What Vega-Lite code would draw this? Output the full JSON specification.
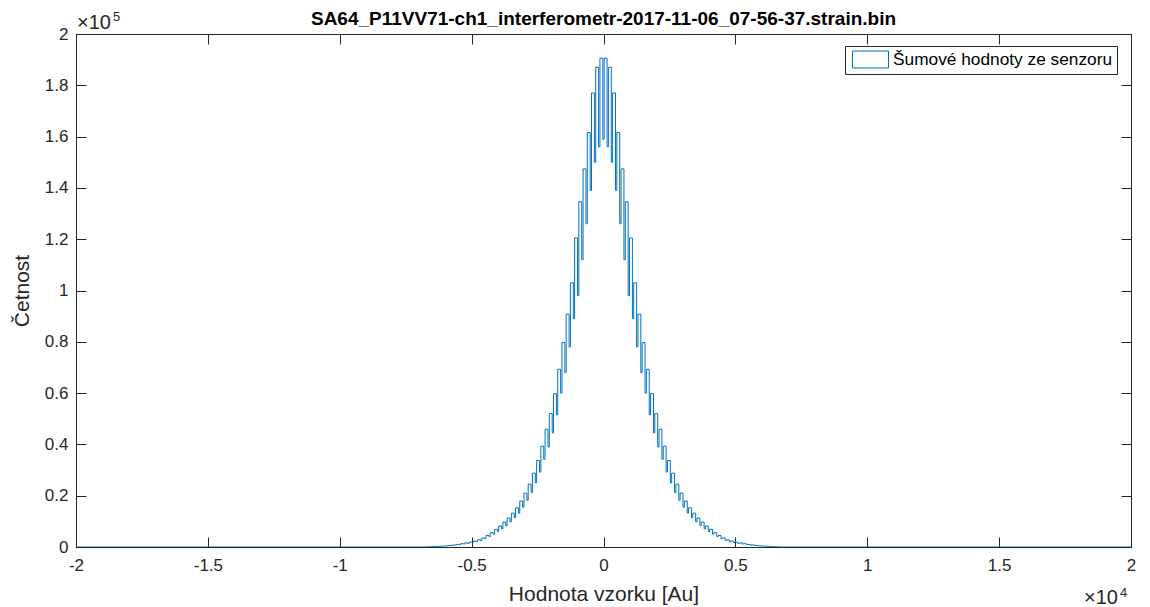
{
"$schema": "https://vega.github.io/schema/vega-lite/v6.json",
"width": 1055, "height": 513,
"autosize": {"type": "none"},
"padding": {"left": 76, "top": 34, "right": 19, "bottom": 60},
"background": "white",
"title": {"text": "SA64_P11VV71-ch1_interferometr-2017-11-06_07-56-37.strain.bin", "fontSize": 19, "fontWeight": "bold", "font": "Liberation Sans", "color": "#000000", "anchor": "middle", "offset": 7, "dy": 25},
"config": {
  "view": {"stroke": "#262626", "strokeWidth": 1},
  "font": "Liberation Sans",
  "axis": {"domainColor": "#262626", "tickColor": "#262626", "labelColor": "#262626", "titleColor": "#262626", "labelFont": "Liberation Sans", "titleFont": "Liberation Sans", "labelFontSize": 17, "titleFontSize": 21, "titleFontWeight": "normal", "grid": false, "tickSize": -10, "tickWidth": 1, "domainWidth": 1, "labelFlush": false, "labelOverlap": false}
},
"resolve": {"axis": {"x": "independent", "y": "independent"}},
"layer": [
 {
  "data": {"values": [
{"x":-20000,"y":0},{"x":-6695,"y":70},{"x":-6585,"y":80},{"x":-6535,"y":140},{"x":-6425,"y":140},{"x":-6375,"y":220},{"x":-6265,"y":220},{"x":-6215,"y":330},{"x":-6105,"y":320},{"x":-6055,"y":450},{"x":-5945,"y":420},{"x":-5895,"y":600},{"x":-5785,"y":560},{"x":-5735,"y":800},{"x":-5625,"y":700},{"x":-5575,"y":1000},{"x":-5465,"y":900},{"x":-5415,"y":1300},{"x":-5305,"y":1150},{"x":-5255,"y":1600},{"x":-5145,"y":1400},{"x":-5095,"y":1900},{"x":-4985,"y":1700},{"x":-4935,"y":2300},{"x":-4825,"y":2000},{"x":-4775,"y":2800},{"x":-4665,"y":2500},{"x":-4615,"y":3500},{"x":-4505,"y":3200},{"x":-4455,"y":4500},{"x":-4345,"y":4100},{"x":-4295,"y":5600},{"x":-4185,"y":5000},{"x":-4135,"y":6900},{"x":-4025,"y":6000},{"x":-3975,"y":8200},{"x":-3865,"y":7100},{"x":-3815,"y":9700},{"x":-3705,"y":8300},{"x":-3655,"y":11300},{"x":-3545,"y":9800},{"x":-3495,"y":13200},{"x":-3385,"y":11400},{"x":-3335,"y":15300},{"x":-3225,"y":13200},{"x":-3175,"y":17900},{"x":-3065,"y":15500},{"x":-3015,"y":21000},{"x":-2905,"y":18200},{"x":-2855,"y":24500},{"x":-2745,"y":21200},{"x":-2695,"y":28800},{"x":-2585,"y":25000},{"x":-2535,"y":33700},{"x":-2425,"y":29200},{"x":-2375,"y":39300},{"x":-2265,"y":34200},{"x":-2215,"y":45900},{"x":-2105,"y":39000},{"x":-2055,"y":52000},{"x":-1945,"y":44500},{"x":-1895,"y":59800},{"x":-1785,"y":51500},{"x":-1735,"y":69300},{"x":-1625,"y":60000},{"x":-1575,"y":79700},{"x":-1465,"y":68000},{"x":-1415,"y":90800},{"x":-1305,"y":78000},{"x":-1255,"y":103000},{"x":-1145,"y":89000},{"x":-1095,"y":120500},{"x":-985,"y":98000},{"x":-935,"y":134600},{"x":-825,"y":112000},{"x":-775,"y":147400},{"x":-665,"y":126000},{"x":-615,"y":161600},{"x":-505,"y":139000},{"x":-455,"y":177000},{"x":-345,"y":150000},{"x":-295,"y":187000},{"x":-185,"y":156000},{"x":-135,"y":190600},{"x":-25,"y":159000},
{"x":25,"y":190600},{"x":135,"y":156000},{"x":185,"y":187000},{"x":295,"y":150000},{"x":345,"y":177000},{"x":455,"y":139000},{"x":505,"y":161600},{"x":615,"y":126000},{"x":665,"y":147400},{"x":775,"y":112000},{"x":825,"y":134600},{"x":935,"y":98000},{"x":985,"y":120500},{"x":1095,"y":89000},{"x":1145,"y":103000},{"x":1255,"y":78000},{"x":1305,"y":90800},{"x":1415,"y":68000},{"x":1465,"y":79700},{"x":1575,"y":60000},{"x":1625,"y":69300},{"x":1735,"y":51500},{"x":1785,"y":59800},{"x":1895,"y":44500},{"x":1945,"y":52000},{"x":2055,"y":39000},{"x":2105,"y":45900},{"x":2215,"y":34200},{"x":2265,"y":39300},{"x":2375,"y":29200},{"x":2425,"y":33700},{"x":2535,"y":25000},{"x":2585,"y":28800},{"x":2695,"y":21200},{"x":2745,"y":24500},{"x":2855,"y":18200},{"x":2905,"y":21000},{"x":3015,"y":15500},{"x":3065,"y":17900},{"x":3175,"y":13200},{"x":3225,"y":15300},{"x":3335,"y":11400},{"x":3385,"y":13200},{"x":3495,"y":9800},{"x":3545,"y":11300},{"x":3655,"y":8300},{"x":3705,"y":9700},{"x":3815,"y":7100},{"x":3865,"y":8200},{"x":3975,"y":6000},{"x":4025,"y":6900},{"x":4135,"y":5000},{"x":4185,"y":5600},{"x":4295,"y":4100},{"x":4345,"y":4500},{"x":4455,"y":3200},{"x":4505,"y":3500},{"x":4615,"y":2500},{"x":4665,"y":2800},{"x":4775,"y":2000},{"x":4825,"y":2300},{"x":4935,"y":1700},{"x":4985,"y":1900},{"x":5095,"y":1400},{"x":5145,"y":1600},{"x":5255,"y":1150},{"x":5305,"y":1300},{"x":5415,"y":900},{"x":5465,"y":1000},{"x":5575,"y":700},{"x":5625,"y":800},{"x":5735,"y":560},{"x":5785,"y":600},{"x":5895,"y":420},{"x":5945,"y":450},{"x":6055,"y":320},{"x":6105,"y":330},{"x":6215,"y":220},{"x":6265,"y":220},{"x":6375,"y":140},{"x":6425,"y":140},{"x":6535,"y":80},{"x":6585,"y":70},{"x":6695,"y":0},{"x":20000,"y":0}
  ]},
  "mark": {"type": "line", "interpolate": "step-after", "strokeWidth": 1, "clip": true},
  "encoding": {
   "x": {"field": "x", "type": "quantitative", "scale": {"domain": [-20000, 20000], "nice": false, "zero": false},
         "axis": {"values": [-20000,-15000,-10000,-5000,0,5000,10000,15000,20000], "labelExpr": "'' + datum.value/10000", "title": "Hodnota vzorku [Au]", "labelPadding": 20, "titlePadding": 10}},
   "y": {"field": "y", "type": "quantitative", "scale": {"domain": [0, 200000], "nice": false},
         "axis": {"values": [0,20000,40000,60000,80000,100000,120000,140000,160000,180000,200000], "labelExpr": "'' + datum.value/100000", "title": "Četnost", "labelPadding": 18, "titlePadding": 12}},
   "color": {"datum": "Šumové hodnoty ze senzoru", "scale": {"range": ["#0072BD"]},
      "legend": {"orient": "none", "legendX": 769, "legendY": 12, "title": null, "symbolType": "M-2,-0.94H2V0.94H-2Z", "symbolSize": 324, "symbolOffset": 12, "symbolFillColor": "white", "symbolStrokeColor": "#0072BD", "symbolStrokeWidth": 1, "labelFontSize": 17.3, "labelLimit": 400, "labelColor": "#000000", "labelFont": "Liberation Sans", "strokeColor": "#262626", "fillColor": "white", "padding": 4, "labelOffset": 13}}
  }
 },
 {
  "data": {"values": [{"a": 0}]},
  "mark": {"type": "point", "opacity": 0},
  "encoding": {
   "x": {"datum": 0, "type": "quantitative", "axis": {"orient": "top", "labels": false, "title": null, "values": [-20000,-15000,-10000,-5000,0,5000,10000,15000,20000]}},
   "y": {"datum": 0, "type": "quantitative", "axis": {"orient": "right", "labels": false, "title": null, "values": [0,20000,40000,60000,80000,100000,120000,140000,160000,180000,200000]}}
  }
 },
 {
  "data": {"values": [{"x": -20000, "y": 200000, "t": "×10", "s": "5"}]},
  "layer": [
   {"mark": {"type": "text", "align": "left", "baseline": "alphabetic", "dx": 1, "dy": -5, "fontSize": 20, "color": "#262626"},
    "encoding": {"x": {"field": "x", "type": "quantitative", "axis": null}, "y": {"field": "y", "type": "quantitative", "axis": null}, "text": {"field": "t"}}},
   {"mark": {"type": "text", "align": "left", "baseline": "alphabetic", "dx": 37, "dy": -13, "fontSize": 13, "color": "#262626"},
    "encoding": {"x": {"field": "x", "type": "quantitative", "axis": null}, "y": {"field": "y", "type": "quantitative", "axis": null}, "text": {"field": "s"}}}
  ]
 },
 {
  "data": {"values": [{"x": 20000, "y": 0, "t": "×10", "s": "4"}]},
  "layer": [
   {"mark": {"type": "text", "align": "right", "baseline": "alphabetic", "dx": -13, "dy": 57, "fontSize": 20, "color": "#262626"},
    "encoding": {"x": {"field": "x", "type": "quantitative", "axis": null}, "y": {"field": "y", "type": "quantitative", "axis": null}, "text": {"field": "t"}}},
   {"mark": {"type": "text", "align": "left", "baseline": "alphabetic", "dx": -11, "dy": 50, "fontSize": 13, "color": "#262626"},
    "encoding": {"x": {"field": "x", "type": "quantitative", "axis": null}, "y": {"field": "y", "type": "quantitative", "axis": null}, "text": {"field": "s"}}}
  ]
 }
]
}
